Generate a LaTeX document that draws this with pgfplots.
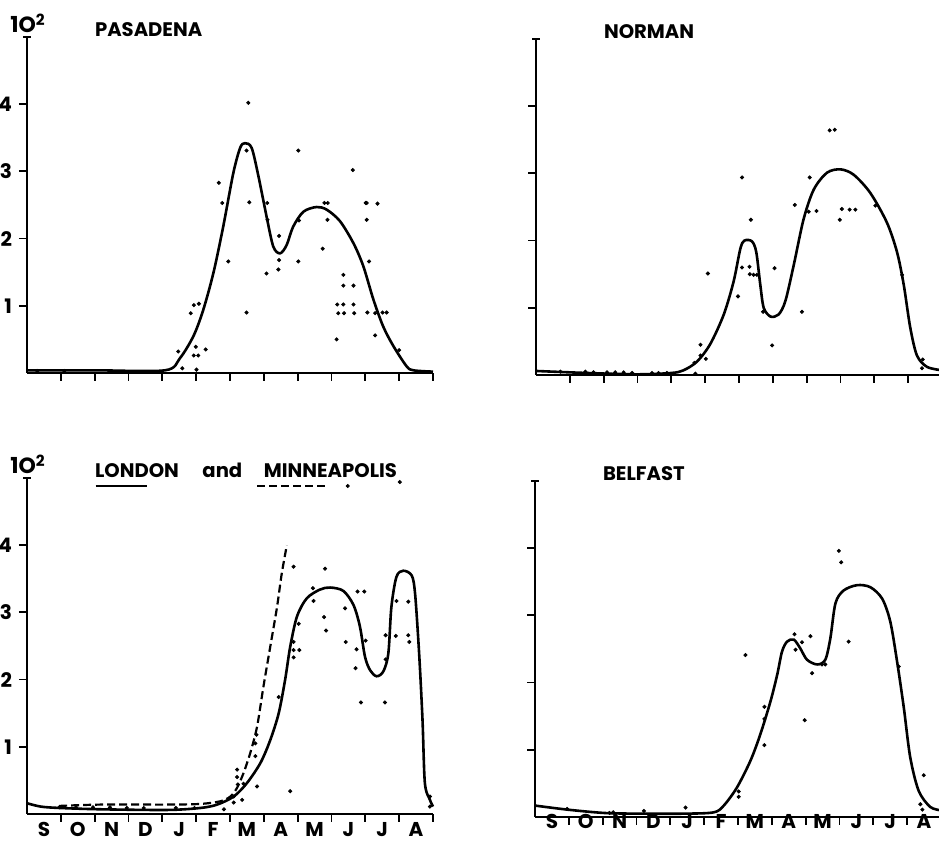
\documentclass[border=0pt]{standalone}
\usepackage{fontspec}
\setmainfont{Poppins}
\usepackage{pgfplots}
\pgfplotsset{compat=1.18}

\pgfplotsset{
  panel/.style={
    scale only axis, width=203pt, height=168pt,
    xmin=0, xmax=12, ymin=0, ymax=5,
    axis lines=left,
    axis line style={line width=1pt, -},
    x axis line style={-}, y axis line style={-},
    xtick={1,...,12}, xticklabels={},
    ytick={1,2,3,4},
    tick align=outside, major tick length=4pt,
    tick style={line width=0.9pt, black},
    extra y ticks={5}, extra y tick labels={},
    extra y tick style={tick align=center},
    clip=false,
    anchor=south west,
    font=\bfseries\fontsize{9.8}{11}\selectfont,
    ticklabel style={font=\bfseries\fontsize{10}{11}\selectfont},
    xticklabel style={yshift=3.5pt},
  },
  months/.style={
    extra x ticks={0.5,1.5,...,11.5},
    extra x tick labels={S,O,N,D,J,F,M,A,M,J,J,A},
    extra x tick style={tick style={draw=none}},
  },
  curve/.style={line width=1.3pt, black, smooth, tension=0.5, no marks},
  dots/.style={only marks, mark=*, mark size=0.8pt, black},
}

\begin{document}
\begin{tikzpicture}
\useasboundingbox (0,0) rectangle (469.5pt,420.5pt);

% Pasadena
\begin{axis}[panel, at={(13.5pt,234pt)}, yticklabels={1,2,3,4}]
\addplot[curve] coordinates {
(0,0.04) (2,0.04) (4.08,0.04) (4.52,0.22) (4.92,0.55) (5.21,0.94) (5.51,1.49)
(5.80,2.18) (6.10,2.98) (6.30,3.35) (6.44,3.42) (6.64,3.35) (6.84,2.93)
(7.08,2.33) (7.28,1.88) (7.48,1.78) (7.67,1.90) (7.87,2.18) (8.17,2.40)
(8.56,2.47) (8.86,2.43) (9.25,2.26) (9.65,1.93) (9.94,1.59) (10.24,1.09)
(10.53,0.69) (10.83,0.40) (11.22,0.10) (11.42,0.04) (12,0.02)};
\addplot[dots] coordinates {
(4.47,0.32) (4.59,0.07) (4.84,0.89) (4.93,1.01) (5.08,1.03) (4.99,0.39)
(4.93,0.26) (5.06,0.26) (5.01,0.05) (5.28,0.35) (5.67,2.83) (5.77,2.53)
(5.95,1.66) (6.49,3.31) (6.54,4.02) (6.57,2.54) (6.49,0.90) (7.10,2.53)
(7.11,2.28) (7.08,1.48) (7.45,2.04) (7.45,1.68) (7.43,1.54) (8.02,3.31)
(8.04,2.27) (8.02,1.66) (8.74,1.85) (8.79,2.53) (8.89,2.53) (8.88,2.28)
(9.15,0.50) (9.17,1.02) (9.20,0.89) (9.35,1.46) (9.35,1.30) (9.35,1.02)
(9.37,0.89) (9.63,3.02) (9.65,1.30) (9.65,1.02) (9.67,0.89) (10.01,2.53)
(10.04,2.53) (10.04,2.28) (10.11,1.66) (10.06,0.90) (10.36,2.52) (10.29,0.56)
(10.29,0.89) (10.51,0.90) (10.63,0.90) (11.00,0.34) (0.3,0.03) (1.1,0.03)};
\node[anchor=base west, inner sep=0] at (axis cs:2,5) {PASADENA};
\node[anchor=base west, inner sep=0, xshift=-8.5pt, yshift=2pt] at (axis cs:0,5)
  {\fontsize{11}{12}\selectfont 1O\textsuperscript{2}};
\end{axis}

% Norman
\begin{axis}[panel, at={(268pt,233pt)}, yticklabels={}]
\addplot[curve] coordinates {
(0,0.06) (1.5,0.03) (3.0,0.01) (4.0,0.03) (4.36,0.07) (4.76,0.20) (5.15,0.46)
(5.55,0.90) (5.84,1.39) (6.04,1.88) (6.16,2.00) (6.38,1.99) (6.51,1.83)
(6.63,1.34) (6.73,1.00) (6.93,0.87) (7.17,0.90) (7.37,1.10) (7.62,1.64)
(7.91,2.32) (8.21,2.76) (8.60,3.01) (9.00,3.06) (9.39,2.98) (9.88,2.71)
(10.37,2.27) (10.67,1.83) (10.87,1.34) (11.06,0.71) (11.26,0.29)
(11.56,0.12) (12,0.07)};
\addplot[dots] coordinates {
(6.09,2.94) (6.35,2.31) (6.09,1.60) (6.31,1.61) (6.32,1.50) (6.43,1.49)
(6.53,1.49) (5.08,1.51) (5.97,1.17) (6.71,0.94) (7.05,1.59) (6.98,0.44)
(7.86,0.94) (7.65,2.53) (8.09,2.94) (8.06,2.43) (8.29,2.44) (8.68,3.64)
(8.83,3.65) (9.04,2.47) (8.98,2.31) (9.27,2.46) (9.44,2.46) (10.03,2.52)
(10.82,1.49) (4.86,0.45) (4.86,0.29) (5.02,0.24) (4.68,0.18) (4.71,0.02)
(11.43,0.23) (11.41,0.10) (0.72,0.05) (1.46,0.05) (1.70,0.04) (2.10,0.04)
(2.34,0.04) (2.59,0.04) (2.84,0.03) (3.43,0.03) (3.62,0.03) (3.87,0.03)};
\node[anchor=base west, inner sep=0] at (axis cs:2,5) {NORMAN};
\end{axis}

% London and Minneapolis
\begin{axis}[panel, months, at={(13.5pt,13.5pt)}, yticklabels={1,2,3,4}]
\addplot[curve] coordinates {
(0,0.16) (0.41,0.11) (0.95,0.09) (2.18,0.07) (4.15,0.06) (5.13,0.09)
(5.62,0.14) (6.11,0.26) (6.50,0.46) (6.90,0.76) (7.19,1.10) (7.44,1.50)
(7.63,2.00) (7.78,2.49) (7.98,2.94) (8.27,3.21) (8.66,3.34) (8.96,3.37)
(9.35,3.32) (9.65,3.11) (9.84,2.79) (9.99,2.34) (10.14,2.14) (10.33,2.05)
(10.53,2.12) (10.68,2.39) (10.77,3.08) (10.92,3.53) (11.12,3.62)
(11.37,3.55) (11.47,3.28) (11.59,2.39) (11.69,1.40) (11.76,0.46)
(11.91,0.21) (12,0.11)};
\addplot[line width=1.1pt, black, dash pattern=on 4pt off 2pt, smooth, tension=0.5, no marks] coordinates {
(0.95,0.12) (2.18,0.14) (4.15,0.14) (5.13,0.15) (5.72,0.19) (6.01,0.26)
(6.21,0.39) (6.40,0.61) (6.60,0.91) (6.80,1.30) (6.99,1.90) (7.19,2.49)
(7.39,3.08) (7.53,3.58) (7.68,4.00)};
\addplot[dots] coordinates {
(9.48,4.88) (11.02,4.94) (7.88,3.68) (8.81,3.65) (8.45,3.36) (8.47,3.17)
(8.78,2.93) (8.84,2.73) (8.03,2.83) (7.88,2.56) (7.88,2.44) (7.88,2.33)
(8.05,2.44) (7.44,1.74) (7.78,0.34) (9.40,3.06) (9.42,2.56) (9.74,2.45)
(9.71,2.17) (9.87,1.66) (9.77,3.31) (9.97,3.31) (10.01,2.58) (10.60,2.66)
(10.60,2.30) (10.58,1.66) (10.92,3.17) (10.90,2.65) (11.27,3.16)
(11.27,2.66) (11.30,2.56) (11.91,0.26) (11.91,0.11) (6.21,0.66) (6.21,0.55)
(6.23,0.44) (6.40,0.45) (6.36,0.21) (6.11,0.26) (6.11,0.17) (5.82,0.07)
(6.75,0.86) (6.75,1.05) (6.78,1.18) (6.80,0.41) (0.95,0.10) (1.45,0.10)
(1.95,0.10) (2.45,0.10) (2.95,0.09) (3.45,0.09) (4.40,0.09) (4.95,0.09)};
\addplot[line width=1.1pt, black, no marks] coordinates {(2.03,4.88) (3.56,4.88)};
\addplot[line width=1.1pt, black, dash pattern=on 4pt off 2pt, no marks] coordinates {(6.80,4.88) (8.86,4.88)};
\node[anchor=base west, inner sep=0] at (axis cs:2,5)
  {LONDON\hspace{1.2em}and\hspace{1.1em}MINNEAPOLIS};
\node[anchor=base west, inner sep=0, xshift=-8.5pt, yshift=2pt] at (axis cs:0,5)
  {\fontsize{11}{12}\selectfont 1O\textsuperscript{2}};
\end{axis}

% Belfast
\begin{axis}[panel, months, at={(267.5pt,12pt)}, yticklabels={},
  xticklabel style={yshift=5.5pt}]
\addplot[curve] coordinates {
(0,0.17) (0.95,0.11) (2.04,0.06) (3.02,0.05) (4.50,0.05) (5.29,0.07)
(5.58,0.17) (5.97,0.44) (6.37,0.84) (6.66,1.23) (6.96,1.72) (7.16,2.12)
(7.30,2.46) (7.45,2.61) (7.65,2.64) (7.84,2.51) (8.04,2.34) (8.34,2.27)
(8.58,2.34) (8.73,2.66) (8.88,3.18) (9.12,3.37) (9.52,3.45) (9.91,3.42)
(10.26,3.25) (10.50,2.91) (10.70,2.32) (10.90,1.63) (11.09,0.89)
(11.34,0.39) (11.68,0.15) (12,0.10)};
\addplot[dots] coordinates {
(8.98,3.96) (9.05,3.79) (6.22,2.41) (7.67,2.72) (7.70,2.49) (7.89,2.60)
(8.14,2.69) (8.19,2.14) (8.48,2.27) (8.58,2.27) (9.27,2.61) (7.97,1.44)
(6.78,1.64) (6.78,1.46) (6.78,1.07) (6.02,0.38) (6.02,0.30) (10.75,2.24)
(11.49,0.62) (11.39,0.19) (11.45,0.11) (4.45,0.14) (3.22,0.09) (2.31,0.07)
(0.95,0.12) (2.20,0.06)};
\node[anchor=base west, inner sep=0] at (axis cs:2,5) {BELFAST};
\end{axis}
\end{tikzpicture}
\end{document}
